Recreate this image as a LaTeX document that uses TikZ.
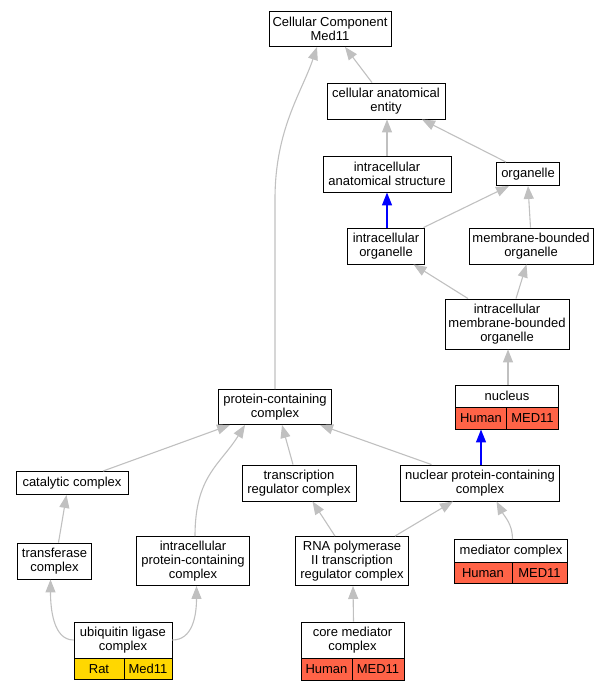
\documentclass[tikz,border=0pt]{standalone}
\usepackage{fontspec}
\setmainfont{Liberation Sans}
\usetikzlibrary{arrows.meta}
\definecolor{tomato}{HTML}{FF6347}
\definecolor{gold}{HTML}{FFD700}
\definecolor{edgegray}{HTML}{C0C0C0}
\tikzset{
  box/.style={draw=black, line width=0.9pt, fill=white, inner sep=0pt, align=center,
    font=\fontsize{13}{14}\selectfont},
  cell/.style={box, minimum height=22pt},
  edge/.style={edgegray, line width=1.1pt, -{Triangle[length=13pt,width=10pt]}},
  hit/.style={edge, blue, line width=1.3pt}
}
\begin{document}
\begin{tikzpicture}[x=1pt,y=-1pt]
        \useasboundingbox (0,0) rectangle (609,691);
        % terms
        \node[box, minimum width=122pt, minimum height=35pt] (cc) at (330,29) {Cellular Component\\Med11};
        \node[box, minimum width=118pt, minimum height=36pt] (cae) at (386,101) {cellular anatomical\\entity};
        \node[box, minimum width=128pt, minimum height=36pt] (ias) at (387,174) {intracellular\\anatomical structure};
        \node[box, minimum width=63pt, minimum height=23pt] (org) at (528,174) {organelle};
        \node[box, minimum width=77pt, minimum height=36pt] (io) at (386,246) {intracellular\\organelle};
        \node[box, minimum width=124pt, minimum height=36pt] (mbo) at (531,246) {membrane-bounded\\organelle};
        \node[box, minimum width=124pt, minimum height=50pt] (imbo) at (507,324) {intracellular\\membrane-bounded\\organelle};
        \node[box, minimum width=103pt, minimum height=22pt] (nuc) at (507,396) {nucleus};
        \node[cell, fill=tomato, minimum width=51pt] (nucH) at (481,418) {Human};
        \node[cell, fill=tomato, minimum width=52pt] (nucM) at (532.5,418) {MED11};
        \node[box, minimum width=113pt, minimum height=35pt] (pcc) at (275,407) {protein-containing\\complex};
        \node[box, minimum width=112pt, minimum height=23pt] (cat) at (72,483) {catalytic complex};
        \node[box, minimum width=114pt, minimum height=36pt] (trc) at (299,483) {transcription\\regulator complex};
        \node[box, minimum width=159pt, minimum height=36pt] (npcc) at (480,483) {nuclear protein-containing\\complex};
        \node[box, minimum width=74pt, minimum height=36pt] (trf) at (54.5,561) {transferase\\complex};
        \node[box, minimum width=113pt, minimum height=49pt] (ipcc) at (193,561) {intracellular\\protein-containing\\complex};
        \node[box, minimum width=113pt, minimum height=49pt] (rna) at (352,561) {RNA polymerase\\II transcription\\regulator complex};
        \node[box, minimum width=113pt, minimum height=23pt] (med) at (511,551) {mediator complex};
        \node[cell, fill=tomato, minimum width=58pt, minimum height=21pt] (medH) at (483,573) {Human};
        \node[cell, fill=tomato, minimum width=55pt, minimum height=21pt] (medM) at (539.5,573) {MED11};
        \node[box, minimum width=98pt, minimum height=36pt] (ubq) at (123,640) {ubiquitin ligase\\complex};
        \node[cell, fill=gold, minimum width=50pt, minimum height=21pt] (ubqR) at (99,669) {Rat};
        \node[cell, fill=gold, minimum width=48pt, minimum height=21pt] (ubqM) at (148,669) {Med11};
        \node[box, minimum width=103pt, minimum height=36pt] (core) at (352.5,640) {core mediator\\complex};
        \node[cell, fill=tomato, minimum width=51pt, minimum height=22pt] (coreH) at (326.5,669) {Human};
        \node[cell, fill=tomato, minimum width=52pt, minimum height=22pt] (coreM) at (378,669) {MED11};

        % is_a links
        \foreach \s/\a/\t/\b in
        {cae/-14/cc/15,
         ias/0/cae/1,
         org/-22/cae/36,
         io/37.5/org/-19,
         mbo/-0.5/org/0,
         imbo/-39/io/27.5,
         imbo/9/mbo/-4.5,
         nuc/1/imbo/1,
         npcc/-48.5/pcc/45,
         cat/31/pcc/-45,
         trc/-6/pcc/7,
         trf/4/cat/-5.5,
         rna/-17/trc/13.5,
         rna/43/npcc/-27,
         core/1/rna/1
        }
        {
            \draw[edge] ([xshift=\a pt]\s.north) -- ([xshift=\b pt]\t.south);
        };
        \draw[hit] ([xshift=1pt]io.north) -- (ias.south);
        \draw[hit] ([xshift=1pt]npcc.north) -- (nucH.south);

        % bent links
        \draw[edge] (pcc.north) -- ++(0,-190) .. controls +(0,-70) and +(-15,45) .. ([xshift=-13pt]cc.south);
        \draw[edge] ([xshift=2pt]ipcc.north) .. controls +(0,-60) and +(-25,40) .. ([xshift=-30pt]pcc.south);
        \draw[edge] ([xshift=1.5pt]med.north) .. controls +(0,-15) and +(8,15) .. ([xshift=16.5pt]npcc.south);
        \draw[edge] (ubq.west) .. controls +(-20,0) and +(0,30) .. ([xshift=-4pt]trf.south);
        \draw[edge] (ubq.east) .. controls +(20,0) and +(0,30) .. ([xshift=3.5pt]ipcc.south);
    \end{tikzpicture}
\end{document}
